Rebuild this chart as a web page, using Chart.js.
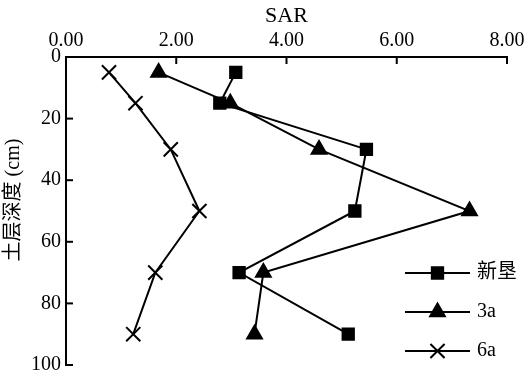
<!DOCTYPE html>
<html><head><meta charset="utf-8">
<script src="https://cdn.jsdelivr.net/npm/chart.js@4/dist/chart.umd.min.js"></script>
<style>html,body{margin:0;padding:0;background:#fff}#wrap{width:532px;height:377px}</style>
</head><body><div id="wrap"><canvas id="c" width="532" height="377"></canvas></div>
<script>
const depths = [5, 15, 30, 50, 70, 90];
const seriesNames = ['新垦', '3a', '6a'];
const xinken = [3.08, 2.79, 5.45, 5.24, 3.14, 5.12];
const a3 = [1.68, 2.98, 4.59, 7.32, 3.58, 3.42];
const a6 = [0.78, 1.26, 1.90, 2.42, 1.62, 1.22];
const xTicks = [0, 2, 4, 6, 8];
const yTicks = [0, 20, 40, 60, 80, 100];
const yTitle = '土层深度 (cm)';

const serif = '"Liberation Serif","Times New Roman",serif';
const toPts = v => v.map((x, i) => ({x: x, y: depths[i]}));
const styles = [
  {pointStyle: 'rect', radius: 8},
  {pointStyle: 'triangle', radius: 8.5},
  {pointStyle: 'crossRot', radius: 10}
];
const datasets = [xinken, a3, a6].map((v, i) => ({
  label: seriesNames[i], data: toPts(v), showLine: true,
  borderColor: '#000', backgroundColor: '#000', borderWidth: 2,
  pointStyle: styles[i].pointStyle, pointRadius: styles[i].radius,
  pointBorderWidth: 2, pointBorderColor: '#000', pointBackgroundColor: '#000'
}));

const extras = {
  id: 'extras',
  afterDraw(chart) {
    const ctx = chart.ctx, a = chart.chartArea, xs = chart.scales.x, ys = chart.scales.y;
    ctx.save();
    ctx.strokeStyle = '#000'; ctx.fillStyle = '#000'; ctx.lineWidth = 2;
    xTicks.forEach(v => { const p = xs.getPixelForValue(v); ctx.beginPath(); ctx.moveTo(p, a.top); ctx.lineTo(p, a.top + 7); ctx.stroke(); });
    yTicks.forEach(v => { const p = ys.getPixelForValue(v); ctx.beginPath(); ctx.moveTo(a.left, p); ctx.lineTo(a.left + 7, p); ctx.stroke(); });
    // y-axis title
    ctx.save();
    ctx.translate(14, 200);
    ctx.rotate(-Math.PI / 2);
    ctx.font = '20px ' + serif + ', "Noto Sans CJK SC"';
    ctx.textAlign = 'center'; ctx.textBaseline = 'middle';
    ctx.fillText(yTitle, 0, 0);
    ctx.restore();
    // legend
    const lx = 405, lw = 65, rows = [273, 312, 351];
    chart.data.datasets.forEach((ds, i) => {
      const y = rows[i];
      ctx.beginPath(); ctx.moveTo(lx, y); ctx.lineTo(lx + lw, y); ctx.stroke();
      Chart.helpers.drawPoint(ctx, {pointStyle: ds.pointStyle, radius: ds.pointRadius, borderWidth: 2}, lx + lw / 2, y);
      ctx.font = '20px ' + serif + ', "Noto Sans CJK SC"';
      ctx.textBaseline = 'middle'; ctx.textAlign = 'left';
      ctx.fillText(ds.label, lx + lw + 7, y);
    });
    ctx.restore();
  }
};

new Chart(document.getElementById('c'), {
  type: 'scatter',
  data: {datasets},
  options: {
    responsive: false, animation: false,
    layout: {padding: {left: 0, right: 25, top: 0, bottom: 12}},
    plugins: {legend: {display: false}, tooltip: {enabled: false}},
    scales: {
      x: {
        type: 'linear', position: 'top', min: 0, max: 8,
        afterBuildTicks: s => { s.ticks = xTicks.map(v => ({value: v})); },
        afterFit: s => { s.height = 57; s.paddingLeft = 0; s.paddingRight = 0; },
        grid: {display: false, drawTicks: false},
        border: {display: true, color: '#000', width: 2},
        ticks: {color: '#000', font: {family: serif, size: 20}, padding: 4, maxRotation: 0, callback: v => v.toFixed(2)},
        title: {display: true, text: 'SAR', color: '#000', font: {family: serif, size: 22}, padding: {top: 3, bottom: 0}}
      },
      y: {
        type: 'linear', reverse: true, min: 0, max: 100,
        afterBuildTicks: s => { s.ticks = yTicks.map(v => ({value: v})); },
        afterFit: s => { s.width = 66; s.paddingTop = 0; s.paddingBottom = 0; },
        grid: {display: false, drawTicks: false},
        border: {display: true, color: '#000', width: 2},
        ticks: {color: '#000', font: {family: serif, size: 20}, padding: 5}
      }
    }
  },
  plugins: [{id: 'bg', beforeDraw(c) { c.ctx.save(); c.ctx.fillStyle = '#fff'; c.ctx.fillRect(0, 0, c.width, c.height); c.ctx.restore(); }}, extras]
});
</script></body></html>
